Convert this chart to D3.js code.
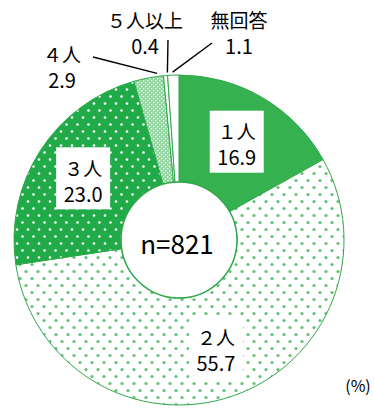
<!DOCTYPE html>
<html>
<head>
<meta charset="utf-8">
<script src="https://cdn.jsdelivr.net/npm/d3@7"></script>
<style>
  html, body { margin: 0; padding: 0; background: #fff; }
  svg { display: block; }
  text { font-family: "Noto Sans CJK JP", "Noto Sans", sans-serif; fill: #000; }
</style>
</head>
<body>
<svg id="chart" width="374" height="408"></svg>
<script>
// Household size breakdown (%), clockwise from 12 o'clock
const categories = ["１人", "２人", "３人", "４人", "５人以上", "無回答"];
const values = [16.9, 55.7, 23.0, 2.9, 0.4, 1.1];
const sampleLabel = "n=821";
const unitLabel = "(%)";

const svg = d3.select("#chart");
const cx = 179, cy = 240;
const outerR = 165, innerR = 58;
const green = "#36b150";
const edge = "#2ea84a";

// ---- fill patterns ----
const defs = svg.append("defs");

// light dotted (white ground, green dots)
const pLight = defs.append("pattern").attr("id", "dotsLight")
  .attr("patternUnits", "userSpaceOnUse").attr("width", 12).attr("height", 14);
pLight.append("rect").attr("width", 12).attr("height", 14).attr("fill", "#fff");
[[3, 3.5], [9, 10.5]].forEach(([x, y]) =>
  pLight.append("circle").attr("cx", x).attr("cy", y).attr("r", 1.6).attr("fill", "#62c274"));

// dark dotted (green ground, white dots)
const pDark = defs.append("pattern").attr("id", "dotsDark")
  .attr("patternUnits", "userSpaceOnUse").attr("width", 11).attr("height", 14);
pDark.append("rect").attr("width", 11).attr("height", 14).attr("fill", "#20ab48");
[[3, 3.5], [8.5, 10.5]].forEach(([x, y]) =>
  pDark.append("circle").attr("cx", x).attr("cy", y).attr("r", 1.3).attr("fill", "#fff"));

// fine checker (pale green with white specks)
const pFine = defs.append("pattern").attr("id", "fineCheck")
  .attr("patternUnits", "userSpaceOnUse").attr("width", 4).attr("height", 4);
pFine.append("rect").attr("width", 4).attr("height", 4).attr("fill", "#8dd39b");
[[0, 0], [2, 2]].forEach(([x, y]) =>
  pFine.append("rect").attr("x", x).attr("y", y).attr("width", 1.4).attr("height", 1.4).attr("fill", "#fff"));

const fills = [green, "url(#dotsLight)", "url(#dotsDark)", "url(#fineCheck)", "#fff", "#fff"];

// ---- pie ----
const data = categories.map((c, i) => ({ cat: c, value: values[i], fill: fills[i] }));
const pie = d3.pie().sort(null).value(d => d.value).startAngle(0).endAngle(2 * Math.PI);
const arcs = pie(data);
const arc = d3.arc().innerRadius(innerR).outerRadius(outerR);

const g = svg.append("g").attr("transform", `translate(${cx},${cy})`);

g.selectAll("path.slice").data(arcs).join("path")
  .attr("class", "slice")
  .attr("d", arc)
  .attr("fill", d => d.data.fill)
  .attr("stroke", edge)
  .attr("stroke-width", 1);

// centre disc with sample size
g.append("circle").attr("r", innerR).attr("fill", "#fff")
  .attr("stroke", edge).attr("stroke-width", 1.5);
g.append("text").attr("x", -2).attr("y", 2)
  .attr("text-anchor", "middle").attr("dominant-baseline", "central")
  .attr("font-size", 26).text(sampleLabel);

// ---- labels inside the large slices ----
const labelArc = d3.arc().innerRadius(114).outerRadius(114);
const boxW = 54, boxH = 62;
const inside = arcs.filter(d => d.data.value >= 10);
const ig = g.selectAll("g.inlabel").data(inside).join("g")
  .attr("class", "inlabel")
  .attr("transform", d => `translate(${labelArc.centroid(d)})`);
ig.append("rect").attr("x", -boxW / 2).attr("y", -boxH / 2)
  .attr("width", boxW).attr("height", boxH).attr("fill", "#fff");
ig.append("text").attr("y", -11).attr("text-anchor", "middle")
  .attr("dominant-baseline", "central").attr("font-size", 19)
  .text(d => d.data.cat);
ig.append("text").attr("y", 15).attr("text-anchor", "middle")
  .attr("dominant-baseline", "central").attr("font-size", 20)
  .text(d => d.data.value.toFixed(1));

// ---- callouts for the small slices ----
const callouts = {
  "４人":    { x: 62,  y: 53, from: [93, 57],  t: 0.8 },
  "５人以上": { x: 145, y: 19, from: [168, 40], t: 1.0 },
  "無回答":   { x: 239, y: 19, from: [212, 43], t: 0.45 }
};
const outside = arcs.filter(d => callouts[d.data.cat]);
outside.forEach(d => {
  const c = callouts[d.data.cat];
  const a = d.startAngle + c.t * (d.endAngle - d.startAngle);
  const r = outerR + 3;
  const ex = Math.sin(a) * r, ey = -Math.cos(a) * r;
  g.append("line")
    .attr("x1", c.from[0] - cx).attr("y1", c.from[1] - cy)
    .attr("x2", ex).attr("y2", ey)
    .attr("stroke", "#000").attr("stroke-width", 1.4);
  g.append("text").attr("x", c.x - cx).attr("y", c.y - cy)
    .attr("text-anchor", "middle").attr("dominant-baseline", "central")
    .attr("font-size", 19).text(d.data.cat);
  g.append("text").attr("x", c.x - cx).attr("y", c.y - cy + 26)
    .attr("text-anchor", "middle").attr("dominant-baseline", "central")
    .attr("font-size", 20).text(d.data.value.toFixed(1));
});

// unit note
svg.append("text").attr("x", 358).attr("y", 385)
  .attr("text-anchor", "middle").attr("dominant-baseline", "central")
  .attr("font-size", 16).text(unitLabel);
</script>
</body>
</html>
